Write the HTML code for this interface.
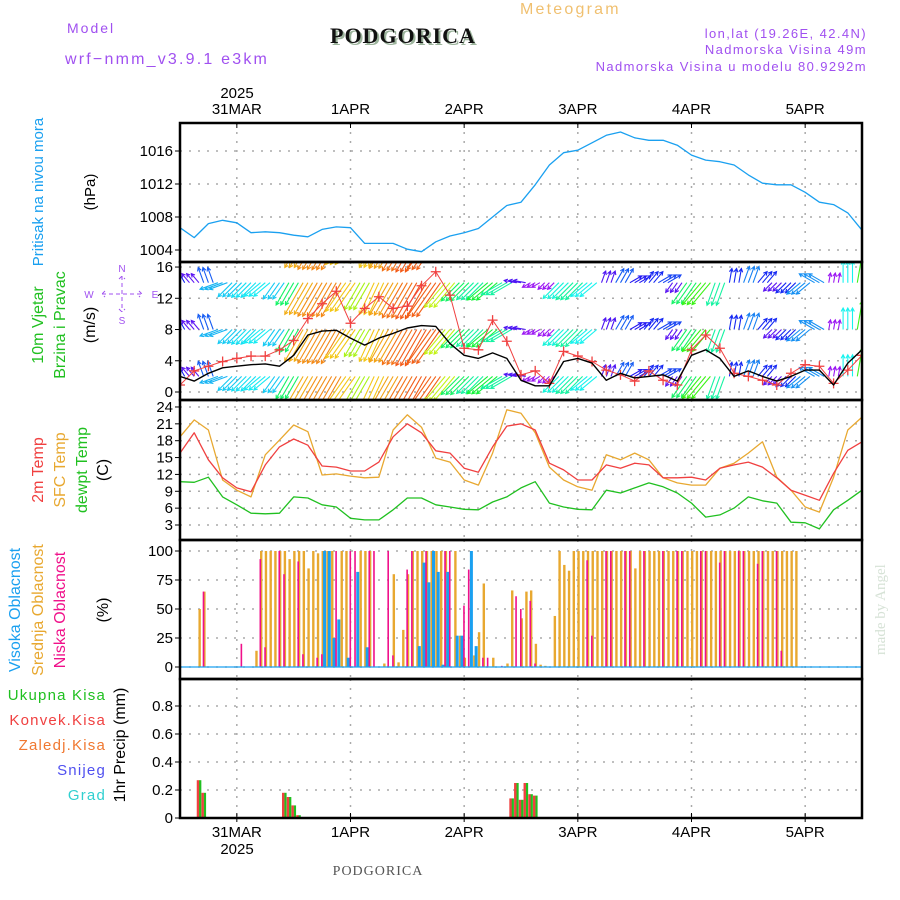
<!DOCTYPE html>
<html><head><meta charset="utf-8"><title>Meteogram Podgorica</title>
<style>
html,body{margin:0;padding:0;background:#fff;}
svg{display:block;font-family:"Liberation Sans",sans-serif;}
</style></head>
<body>
<svg id="chart" width="900" height="900" viewBox="0 0 900 900" xmlns="http://www.w3.org/2000/svg">
<defs>
<clipPath id="clipWind"><rect x="180" y="262" width="682" height="138"/></clipPath>
</defs>
<rect x="0" y="0" width="900" height="900" fill="#fff"/>
<text x="67" y="33" font-size="14" fill="#a050f0" letter-spacing="2">Model</text>
<text x="65" y="64" font-size="16" fill="#a050f0" letter-spacing="2.2">wrf−nmm_v3.9.1 e3km</text>
<text x="332" y="45" font-family="Liberation Serif,serif" font-weight="bold" font-size="22" fill="#9cb49c" letter-spacing="1">PODGORICA</text>
<text x="330" y="43" font-family="Liberation Serif,serif" font-weight="bold" font-size="22" fill="#111" letter-spacing="1">PODGORICA</text>
<text x="520" y="14" font-size="16" fill="#f0c070" letter-spacing="2.2">Meteogram</text>
<text x="867" y="38" font-size="13" fill="#a050f0" text-anchor="end" letter-spacing="1.4">lon,lat (19.26E, 42.4N)</text>
<text x="867" y="54" font-size="13" fill="#a050f0" text-anchor="end" letter-spacing="1.4">Nadmorska Visina 49m</text>
<text x="867" y="71" font-size="13" fill="#a050f0" text-anchor="end" letter-spacing="1.4">Nadmorska Visina u modelu 80.9292m</text>
<text x="237" y="98" font-size="15" text-anchor="middle">2025</text>
<text x="237" y="854" font-size="15" text-anchor="middle">2025</text>
<text x="378" y="875" font-family="Liberation Serif,serif" font-size="14" fill="#555" text-anchor="middle" letter-spacing="1">PODGORICA</text>
<text transform="translate(885,655) rotate(-90)" font-family="Liberation Serif,serif" font-size="15" fill="#d6e2d6">made by Angel</text>

<text transform="translate(43,192) rotate(-90)" font-size="15" fill="#1aa0f0" text-anchor="middle">Pritisak na nivou mora</text>
<text transform="translate(95,192) rotate(-90)" font-size="15" text-anchor="middle">(hPa)</text>
<text transform="translate(43,325) rotate(-90)" font-size="16" fill="#20c020" text-anchor="middle">10m Vjetar</text>
<text transform="translate(65,325) rotate(-90)" font-size="16" fill="#20c020" text-anchor="middle">Brzina i Pravac</text>
<text transform="translate(95,325) rotate(-90)" font-size="16" text-anchor="middle">(m/s)</text>
<g fill="#a050f0" stroke="none" font-size="10" text-anchor="middle">
<text x="122" y="272">N</text>
<text x="122" y="324">S</text>
<text x="89" y="298">W</text>
<text x="155" y="298">E</text>
<path d="M122,276 L122,312 M102,294 L142,294 M105,291 L102,294 L105,297 M139,291 L142,294 L139,297 M119,279 L122,276 L125,279 M119,309 L122,312 L125,309" stroke="#a050f0" stroke-width="1" stroke-dasharray="4,3" fill="none"/>
</g>
<text transform="translate(43,470) rotate(-90)" font-size="16" fill="#f04040" text-anchor="middle">2m Temp</text>
<text transform="translate(65,470) rotate(-90)" font-size="16" fill="#e8a830" text-anchor="middle">SFC Temp</text>
<text transform="translate(87,470) rotate(-90)" font-size="16" fill="#20c020" text-anchor="middle">dewpt Temp</text>
<text transform="translate(108,470) rotate(-90)" font-size="16" text-anchor="middle">(C)</text>
<text transform="translate(20,610) rotate(-90)" font-size="16" fill="#1aa0f0" text-anchor="middle">Visoka Oblacnost</text>
<text transform="translate(43,610) rotate(-90)" font-size="16" fill="#e8a830" text-anchor="middle">Srednja Oblacnost</text>
<text transform="translate(65,610) rotate(-90)" font-size="16" fill="#f0108a" text-anchor="middle">Niska Oblacnost</text>
<text transform="translate(108,610) rotate(-90)" font-size="16" text-anchor="middle">(%)</text>
<g font-size="15" text-anchor="end" letter-spacing="1.2">
<text x="106" y="700" fill="#20c020">Ukupna Kisa</text>
<text x="106" y="725" fill="#f04040">Konvek.Kisa</text>
<text x="106" y="750" fill="#f07830">Zaledj.Kisa</text>
<text x="106" y="775" fill="#5050f0">Snijeg</text>
<text x="106" y="800" fill="#30d0d0">Grad</text>
</g>
<text transform="translate(125,745) rotate(-90)" font-size="16" text-anchor="middle">1hr Precip (mm)</text>

<g id="grid"></g>
<g id="marks"></g>
<g id="frame"></g>
</svg>
<script>
const dayLabels = ['31MAR','1APR','2APR','3APR','4APR','5APR'];
const dayHours = [12,36,60,84,108,132];
const pressure = [1006.7,1005.5,1007.2,1007.6,1007.3,1006.1,1006.2,1006.1,1005.8,1005.6,1006.5,1006.8,1006.7,1004.8,1004.8,1004.8,1004.1,1003.8,1005.0,1005.7,1006.1,1006.6,1008.0,1009.4,1009.8,1011.9,1014.3,1015.8,1016.1,1017.0,1017.9,1018.3,1017.6,1017.3,1017.3,1016.7,1015.5,1014.9,1014.7,1014.3,1013.1,1012.1,1011.9,1011.9,1011.0,1009.8,1009.5,1008.5,1006.4];
const windSpeed = [2.0,1.4,2.4,3.1,3.3,3.5,3.6,3.3,4.7,7.3,7.8,7.9,6.9,6.0,6.9,7.5,8.2,8.5,8.4,6.2,4.7,4.3,5.0,4.3,1.5,0.8,0.8,3.9,4.3,3.7,1.5,2.4,1.8,2.0,2.2,1.4,4.7,5.4,4.3,2.0,2.7,2.0,1.4,2.0,2.8,2.8,0.9,3.7,5.4];
const windGust = [0.9,2.7,3.3,3.9,4.3,4.6,4.6,5.4,6.6,9.4,11.3,12.9,8.8,10.7,12.2,10.7,11.0,13.6,15.4,12.4,5.6,5.4,9.2,6.5,2.2,2.7,1.1,5.2,4.6,3.9,2.8,2.2,1.4,2.7,1.5,0.9,5.4,7.3,5.6,2.4,2.0,1.5,0.9,2.4,3.5,3.3,1.1,2.8,4.7];
const windToDir = [330,320,340,250,225,225,230,215,210,210,210,210,215,210,205,210,210,210,215,220,225,225,230,240,280,240,225,225,225,230,20,30,60,40,60,215,215,220,200,10,20,40,225,225,230,300,10,0,10];
const temp2m = [15.8,19.4,14.6,11.4,9.6,8.9,13.7,16.9,18.3,17.2,13.5,13.3,12.6,12.6,14.2,18.7,21.0,19.4,16.2,15.8,13.1,12.4,16.9,20.6,21.0,19.9,14.0,12.8,11.0,11.0,13.7,13.1,14.0,13.7,11.4,11.4,11.5,11.0,13.1,13.7,14.2,13.3,11.4,9.2,8.3,7.4,12.2,16.3,17.8];
const tempSfc = [18.7,21.7,19.9,11.0,9.2,8.0,15.5,18.1,20.8,19.6,11.9,12.1,11.7,11.4,11.5,19.9,22.6,20.4,14.9,14.2,11.0,10.1,15.8,23.5,22.9,19.4,13.3,11.0,9.8,9.2,15.5,14.6,15.8,14.6,11.4,10.5,10.1,10.1,13.1,14.0,15.8,17.8,11.5,9.2,6.2,5.3,11.5,19.9,22.2];
const dewpoint = [10.7,10.6,11.5,8.0,6.6,5.1,5.0,5.1,8.0,7.8,6.6,6.2,4.2,3.9,3.9,5.7,7.8,7.8,6.6,6.2,5.8,5.7,7.1,8.0,9.6,10.7,6.9,6.2,5.8,5.7,9.2,8.7,9.6,10.5,9.8,8.7,6.9,4.4,4.8,6.0,8.0,7.3,6.9,3.5,3.4,2.3,5.7,7.4,9.2];
const cloudHigh = [0,0,0,0,0,0,0,0,0,0, 0,0,0,0,0,0,0,0,0,0, 0,0,0,0,0,0,0,0,0,0, 100,100,25,41,0,8,0,82,0,17, 0,0,0,0,0,0,0,0,0,0, 18,90,73,100,82,2,82,0,27,27, 0,100,18,0,0,0,0,0,0,0, 0,0,0,0,0,0,0,0,0,0, 0,0,0,0,0,0,0,0,0,0, 0,0,0,0,0,0,0,0,0,0, 0,0,0,0,0,0,0,0,0,0, 0,0,0,0,0,0,0,0,0,0, 0,0,0,0,0,0,0,0,0,0, 0,0,0,0,0,0,0,0,0,0, 0,0,0,0,0];
const cloudMid = [0,0,0,0,50,65,0,0,0,0, 0,0,0,0,0,0,14,100,100,100, 100,100,100,93,100,100,100,85,100,98, 100,100,100,0,100,100,0,0,100,100, 100,0,0,3,0,80,4,32,80,100, 100,100,100,100,100,100,100,0,100,27, 8,0,10,30,72,0,8,0,0,3, 66,0,42,65,66,20,2,1,0,44, 100,88,83,100,100,100,100,100,100,100, 100,100,100,100,100,100,85,100,100,100, 100,100,100,100,100,100,100,100,100,100, 100,100,100,100,100,100,100,100,100,100, 100,100,100,100,100,100,100,100,100,100, 100,0,0,0,0,0,0,0,0,0, 0,0,0,0,0];
const cloudLow = [0,0,0,0,0,65,0,0,0,0, 0,0,0,20,0,0,0,93,17,0, 0,100,80,0,0,91,11,0,0,8, 11,0,0,100,0,0,100,100,0,0, 100,100,0,0,100,10,0,0,84,100, 0,0,100,0,0,0,100,100,0,0, 53,84,0,0,8,8,0,0,1,0, 0,61,50,0,57,3,0,0,0,0, 0,0,0,0,0,0,92,27,0,0, 100,100,0,0,100,100,0,0,100,0, 0,0,100,0,0,100,100,0,0,0, 100,100,0,0,90,100,0,0,100,100, 0,0,89,100,0,0,100,14,0,0, 0,0,0,0,0,0,0,0,0,0, 0,0,0,0,0];
const precipHours = [4,5,22,23,24,25,70,71,72,73,74,75];
const precipTotal = [0.27,0.18,0.18,0.15,0.09,0.02,0.14,0.25,0.13,0.25,0.17,0.16];
const precipConv = [0.27,0.18,0.18,0.15,0.09,0.02,0.14,0.25,0.13,0.25,0.17,0.16];
const pTicks = [1004,1008,1012,1016];
const wTicks = [0,4,8,12,16];
const tTicks = [3,6,9,12,15,18,21,24];
const cTicks = [0,25,50,75,100];
const rTicks = [0,0.2,0.4,0.6,0.8];

const NS = 'http://www.w3.org/2000/svg';
const X0 = 180, X1 = 862, HMAX = 144;
const xH = h => X0 + h * (X1 - X0) / HMAX;
const yP = v => 250 - (v - 1004) * 8.25;
const yW = v => 392 - v * 7.81;
const yT = v => 525 - (v - 3) * 5.62;
const yC = v => 667 - v * 1.16;
const yR = v => 818 - v * 140;
const panels = [[123,262],[262,400],[400,540],[540,679],[679,818]];

function mk(tag, attrs, parent) {
  const el = document.createElementNS(NS, tag);
  for (const k in attrs) el.setAttribute(k, attrs[k]);
  parent.appendChild(el);
  return el;
}
const grid = document.getElementById('grid');
const marks = document.getElementById('marks');
const frame = document.getElementById('frame');

dayHours.forEach((h, i) => {
  panels.forEach(p => {
    const g = mk('line', {x1: xH(h), x2: xH(h), y1: p[0], y2: p[1], stroke: '#aaa', 'stroke-width': 1.5, 'stroke-dasharray': '2,7'}, grid);
    
    
  });
  const t1 = mk('text', {x: xH(h), y: 114, 'font-size': 15, 'text-anchor': 'middle'}, frame);
  t1.textContent = dayLabels[i];
  
  
  const t2 = mk('text', {x: xH(h), y: 837, 'font-size': 15, 'text-anchor': 'middle'}, frame);
  t2.textContent = dayLabels[i];
  
  
  const tk = mk('line', {x1: xH(h), x2: xH(h), y1: 123, y2: 128, stroke: '#000', 'stroke-width': 1}, frame);
  
  
  const tk2 = mk('line', {x1: xH(h), x2: xH(h), y1: 813, y2: 822, stroke: '#000', 'stroke-width': 1}, frame);
  
  
});

function yAxis(ticks, scale, name, fmt) {
  ticks.forEach(v => {
    const y = scale(v);
    const gl = mk('line', {x1: X0, x2: X1, y1: y, y2: y, stroke: '#aaa', 'stroke-width': 1.5, 'stroke-dasharray': '2,7'}, grid);
    
    
    const tk = mk('line', {x1: 175, x2: 180, y1: y, y2: y, stroke: '#000', 'stroke-width': 1}, frame);
    
    
    const t = mk('text', {x: 173, y: y + 5, 'font-size': 15, 'text-anchor': 'end'}, frame);
    t.textContent = fmt ? fmt(v) : String(v);
    
    
  });
}
yAxis(pTicks, yP, 'pressure-axis');
yAxis(wTicks, yW, 'wind-axis');
yAxis(tTicks, yT, 'temp-axis');
yAxis(cTicks, yC, 'cloud-axis');
yAxis(rTicks, yR, 'precip-axis', v => v === 0 ? '0' : v.toFixed(1));

function series(arr, xs, scale, color, name, width) {
  const pts = arr.map((v, i) => xH(xs(i)).toFixed(1) + ',' + scale(v).toFixed(1)).join(' ');
  const pl = mk('polyline', {points: pts, fill: 'none', stroke: color, 'stroke-width': width || 1.3, 'stroke-linejoin': 'round'}, marks);
  
  
  return pl;
}
const h3 = i => i * 3;
series(pressure, h3, yP, '#1aa0f0', 'pressure-line');
series(tempSfc, h3, yT, '#e8a830', 'sfc-temp-line');
series(temp2m, h3, yT, '#f04040', '2m-temp-line');
series(dewpoint, h3, yT, '#20c020', 'dewpoint-line');

cloudMid.forEach((v, h) => {
  if (v <= 0) return;
  const r = mk('rect', {x: xH(h) - 0.5, y: yC(v), width: 2.4, height: yC(0) - yC(v), fill: '#e8a830'}, marks);
  
  
});
cloudHigh.forEach((v, h) => {
  if (v <= 0) return;
  const r = mk('rect', {x: xH(h) + 1, y: yC(v), width: 3, height: yC(0) - yC(v), fill: '#1aa0f0'}, marks);
  
  
});
cloudLow.forEach((v, h) => {
  if (v <= 0) return;
  const r = mk('rect', {x: xH(h) - 1, y: yC(v), width: 1.6, height: yC(0) - yC(v), fill: '#f0108a'}, marks);
  
  
});
const cb = mk('line', {x1: X0, x2: X1, y1: yC(0), y2: yC(0), stroke: '#1aa0f0', 'stroke-width': 1.2}, marks);



precipHours.forEach((h, i) => {
  const g = mk('rect', {x: xH(h), y: yR(precipTotal[i]), width: 2.4, height: yR(0) - yR(precipTotal[i]), fill: '#20c020'}, marks);
  
  
  const r = mk('rect', {x: xH(h) - 2.2, y: yR(precipConv[i]), width: 2.4, height: yR(0) - yR(precipConv[i]), fill: '#f04040'}, marks);
  
  
});

const windG = mk('g', {'clip-path': 'url(#clipWind)'}, marks);


function speedColor(s) {
  const stops = [[0,280],[1,275],[2,235],[3,200],[4,170],[5,130],[6,80],[7,45],[8,30],[9,5],[10,330]];
  let hue = 330;
  for (let k = 0; k < stops.length - 1; k++) {
    if (s >= stops[k][0] && s < stops[k+1][0]) {
      const f = (s - stops[k][0]) / (stops[k+1][0] - stops[k][0]);
      hue = stops[k][1] + f * (stops[k+1][1] - stops[k][1]);
      break;
    }
  }
  return 'hsl(' + hue.toFixed(0) + ',90%,52%)';
}
const rowLevels = [2, 8, 14, 20];
windSpeed.forEach((s, i) => {
  for (let sub = 0; sub < 3; sub++) {
    const h = i * 3 + sub - 1;
    if (h < 0 || h > HMAX) continue;
    const ang = windToDir[i] * Math.PI / 180;
    const len = 6 + s * 4.2;
    const dx = Math.sin(ang) * len, dy = -Math.cos(ang) * len;
    const col = speedColor(s);
    rowLevels.forEach(lv => {
      const x0 = xH(h), y0 = yW(lv);
      const x1 = x0 + dx, y1 = y0 + dy;
      const a = Math.atan2(dy, dx);
      const hx1 = x1 - 4 * Math.cos(a - 0.5), hy1 = y1 - 4 * Math.sin(a - 0.5);
      const hx2 = x1 - 4 * Math.cos(a + 0.5), hy2 = y1 - 4 * Math.sin(a + 0.5);
      const p = mk('path', {d: `M${x0.toFixed(1)},${y0.toFixed(1)}L${x1.toFixed(1)},${y1.toFixed(1)}M${hx1.toFixed(1)},${hy1.toFixed(1)}L${x1.toFixed(1)},${y1.toFixed(1)}L${hx2.toFixed(1)},${hy2.toFixed(1)}`, stroke: col, 'stroke-width': 1.1, fill: 'none'}, windG);
      
      
    });
  }
});
const gustLine = series(windGust, h3, yW, '#f04040', 'gust-line', 1);
windG.appendChild(gustLine);
windGust.forEach((v, i) => {
  const x = xH(i * 3), y = yW(v);
  const c = mk('path', {d: `M${x-5},${y}L${x+5},${y}M${x},${y-5}L${x},${y+5}`, stroke: '#f04040', 'stroke-width': 1.3}, windG);
  
  
});
const spd = series(windSpeed, h3, yW, '#000', 'wind-speed-line', 1.4);
windG.appendChild(spd);

panels.forEach((p, i) => {
  const r = mk('rect', {x: X0, y: p[0], width: X1 - X0, height: p[1] - p[0], fill: 'none', stroke: '#000', 'stroke-width': 2.5}, frame);
  
  
});
</script>
</body></html>
